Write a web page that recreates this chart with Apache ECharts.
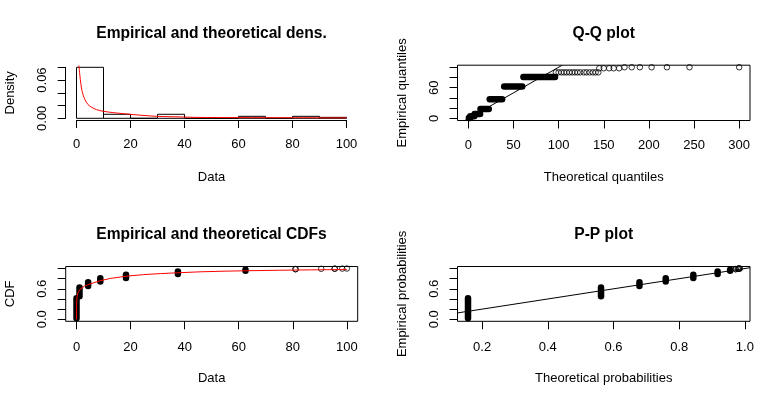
<!DOCTYPE html>
<html>
<head>
<meta charset="utf-8">
<script src="https://cdn.jsdelivr.net/npm/echarts@6.0.0/dist/echarts.min.js"></script>
<style>
html, body { margin: 0; padding: 0; background: #fff; }
#chart { width: 784px; height: 403px; }
</style>
</head>
<body>
<div id="chart"></div>
<script>
// histogram on density scale
var binStart = [0, 10, 20, 30, 40, 50, 60, 70, 80, 90];
var binEnd = [10, 20, 30, 40, 50, 60, 70, 80, 90, 100];
var binDensity = [0.080, 0.0063, 0, 0.0063, 0, 0, 0.0031, 0, 0.0031, 0.0015];

// fitted density (red curve)
var densX = [0.87, 1.24, 1.6, 2.0, 2.5, 3.1, 4.3, 5.6, 7.4, 9.9, 13.6, 17.3, 21, 29.7, 38, 45, 60, 80, 100];
var densY = [0.083, 0.0675, 0.0544, 0.0439, 0.0361, 0.0293, 0.0214, 0.0173, 0.0136, 0.011, 0.0089, 0.0073, 0.0058, 0.0031, 0.0022, 0.0014, 0.0011, 0.0009, 0.0007];

// observed values (dense groups) and their empirical probabilities
var obsValue = [0, 1.1, 4.3, 8.8, 18.3, 37.5, 62.5];
var ecdfLow = [0.02, 0.455, 0.655, 0.745, 0.815, 0.89, 0.955];
var ecdfHigh = [0.415, 0.625, 0.73, 0.81, 0.875, 0.94, 0.975];
// sparse upper tail
var tailValue = [81, 81, 90.5, 95.5, 95.5, 98.3, 100];
var tailEcdf = [0.985, 0.99, 0.995, 0.996, 0.998, 0.999, 1.0];

// fitted CDF (red curve)
var cdfX = [0, 0.05, 0.15, 0.4, 0.8, 1.3, 2.0, 3.0, 4.0, 5.2, 6.4, 8.8, 12.5, 18.6, 24.8, 31, 37, 45.7, 55, 62.5, 75, 87, 100];
var cdfY = [0, 0.3, 0.42, 0.5, 0.55, 0.59, 0.62, 0.655, 0.675, 0.7, 0.72, 0.76, 0.805, 0.85, 0.88, 0.9, 0.915, 0.935, 0.948, 0.956, 0.966, 0.974, 0.98];

// Q-Q: empirical value, range of theoretical quantiles
var qqEmp = [0, 1.1, 4.3, 8.8, 18.3, 37.5, 62.5, 81];
var qqTheoLow = [0, 0.6, 2.2, 7, 13.5, 23.7, 39.7, 61];
var qqTheoHigh = [0.5, 2, 6.5, 13, 22.6, 37.4, 59.7, 96];
var qqOpenTheo = [97, 100, 103, 106, 109, 112, 115, 118, 121, 124, 128, 131, 134.5, 138, 141, 144,
                  145, 150, 156, 161, 167, 173, 181, 190, 203, 220, 245, 300];
var qqOpenEmp = [90, 90, 90, 90, 90, 90, 90, 90, 90, 90, 90, 90, 90, 90, 90, 90,
                 98, 98, 98, 98, 98, 100, 100, 100, 100, 100, 100, 100];

// P-P: theoretical probability of each dense group, and of the tail points
var ppTheo = [0.157, 0.562, 0.679, 0.759, 0.843, 0.917, 0.955];
var ppTailTheo = [0.972, 0.972, 0.978, 0.981, 0.981, 0.983, 0.985];

// axis ticks / labels
var densTicksY = [0, 0.02, 0.04, 0.06, 0.08];
var densLabelsY = [0, 0.06];
var qqTicksX = [0, 50, 100, 150, 200, 250, 300];
var qqTicksY = [0, 20, 40, 60, 80, 100];
var qqLabelsY = [0, 60];
var cdfTicksX = [0, 20, 40, 60, 80, 100];
var probTicks = [0, 0.2, 0.4, 0.6, 0.8, 1.0];
var probLabels = [0, 0.6];
var ppTicksX = [0.2, 0.4, 0.6, 0.8, 1.0];

var FONT = '"Liberation Sans", Arial, sans-serif';
var FS = 13;
var chart = echarts.init(document.getElementById('chart'), null, {renderer: 'canvas'});

function fmt(d) {
    return function (v) { return Number(v).toFixed(d); };
}

function axis(grid, min, max, ticks, labels, f, isY, name, margin, gap, extra) {
    var a = {
        type: 'value', gridIndex: grid, min: min, max: max,
        splitLine: {show: false},
        axisLine: {show: false, onZero: false, lineStyle: {color: '#000', width: 1}},
        axisTick: {show: true, inside: false, length: 8, customValues: ticks, lineStyle: {color: '#000', width: 1}},
        axisLabel: {customValues: labels, formatter: f, rotate: isY ? 90 : 0, margin: margin,
                    color: '#000', fontSize: FS, fontFamily: FONT},
        name: name, nameLocation: 'middle', nameGap: gap,
        nameTextStyle: {color: '#000', fontSize: FS, fontFamily: FONT}
    };
    for (var k in extra) a[k] = extra[k];
    return a;
}

var series = [];

// histogram bars
var histData = binStart.map(function (s, i) { return [s, binEnd[i], binDensity[i]]; });
series.push({
    type: 'custom', xAxisIndex: 0, yAxisIndex: 0, data: histData,
    encode: {x: [0, 1], y: 2},
    renderItem: function (params, api) {
        var a = api.coord([api.value(0), api.value(2)]);
        var b = api.coord([api.value(1), 0]);
        return {type: 'rect', shape: {x: a[0], y: a[1], width: b[0] - a[0], height: b[1] - a[1]},
                style: {fill: 'none', stroke: '#000', lineWidth: 1}};
    }
});
series.push({
    type: 'line', xAxisIndex: 0, yAxisIndex: 0, clip: false, smooth: 0.3, symbol: 'none',
    data: densX.map(function (x, i) { return [x, densY[i]]; }),
    lineStyle: {color: '#ff0000', width: 1}
});

// dense groups drawn as thick capsules (overlapping circles)
function blob(xi, yi, p0, p1) {
    series.push({
        type: 'line', xAxisIndex: xi, yAxisIndex: yi, symbol: 'none', silent: true,
        data: [p0, p1], lineStyle: {color: '#000', width: 6.5, cap: 'round'}
    });
}
function openPts(xi, yi, pts) {
    series.push({
        type: 'scatter', xAxisIndex: xi, yAxisIndex: yi, symbol: 'circle', symbolSize: 5.5,
        data: pts, itemStyle: {color: 'rgba(0,0,0,0)', borderColor: '#000', borderWidth: 1}
    });
}

// Q-Q
qqEmp.forEach(function (v, i) { blob(1, 1, [qqTheoLow[i], v], [qqTheoHigh[i], v]); });
openPts(1, 1, qqOpenTheo.map(function (t, i) { return [t, qqOpenEmp[i]]; }));
series.push({type: 'line', xAxisIndex: 1, yAxisIndex: 1, symbol: 'none',
    data: [[-4, -4], [104, 104]], lineStyle: {color: '#000', width: 1}});

// CDF
obsValue.forEach(function (v, i) { blob(2, 2, [v, ecdfLow[i]], [v, ecdfHigh[i]]); });
openPts(2, 2, tailValue.map(function (v, i) { return [v, tailEcdf[i]]; }));
series.push({type: 'line', xAxisIndex: 2, yAxisIndex: 2, symbol: 'none', z: 5,
    data: cdfX.map(function (x, i) { return [x, cdfY[i]]; }), lineStyle: {color: '#ff0000', width: 1}});

// P-P
ppTheo.forEach(function (t, i) { blob(3, 3, [t, ecdfLow[i]], [t, ecdfHigh[i]]); });
openPts(3, 3, ppTailTheo.map(function (t, i) { return [t, tailEcdf[i]]; }));
series.push({type: 'line', xAxisIndex: 3, yAxisIndex: 3, symbol: 'none',
    data: [[0.125, 0.125], [1.0156, 1.0156]], lineStyle: {color: '#000', width: 1}});

function title(text, x, y) {
    return {text: text, left: x, top: y, textAlign: 'center', textVerticalAlign: 'middle', padding: 0,
            textStyle: {color: '#000', fontSize: 15.6, fontWeight: 'bold', fontFamily: FONT}};
}

var boxStyle = {show: true, borderColor: '#000', borderWidth: 1, backgroundColor: 'transparent'};

chart.setOption({
    animation: false,
    backgroundColor: '#fff',
    title: [
        title('Empirical and theoretical dens.', 211.5, 34),
        title('Q-Q plot', 603.7, 34),
        title('Empirical and theoretical CDFs', 211.5, 235),
        title('P-P plot', 603.7, 235)
    ],
    grid: [
        {left: 76.5, width: 270, top: 67.3, height: 51},
        Object.assign({left: 457.5, width: 292.5, top: 65.2, height: 55.3}, boxStyle),
        Object.assign({left: 65.7, width: 292, top: 266.5, height: 54.8}, boxStyle),
        Object.assign({left: 457.5, width: 292.5, top: 266.5, height: 54.8}, boxStyle)
    ],
    xAxis: [
        axis(0, 0, 100, null, null, null, false, 'Data', 18, 51,
             {interval: 20, offset: 1.7, axisLine: {show: true, onZero: false, lineStyle: {color: '#000', width: 1}},
              axisTick: {show: true, length: 8, lineStyle: {color: '#000', width: 1}},
              axisLabel: {margin: 18, color: '#000', fontSize: FS, fontFamily: FONT}}),
        axis(1, -12, 312, qqTicksX, qqTicksX, null, false, 'Theoretical quantiles', 18, 50),
        axis(2, -4, 104, cdfTicksX, cdfTicksX, null, false, 'Data', 19.5, 51),
        axis(3, 0.125, 1.0156, ppTicksX, ppTicksX, fmt(1), false, 'Theoretical probabilities', 19.5, 51)
    ],
    yAxis: [
        axis(0, 0, 0.08, densTicksY, densLabelsY, fmt(2), true, 'Density', 17, 49,
             {offset: 10.8, axisLine: {show: true, onZero: false, lineStyle: {color: '#000', width: 1}}}),
        axis(1, -4, 104, qqTicksY, qqLabelsY, null, true, 'Empirical quantiles', 17, 49),
        axis(2, -0.04, 1.04, probTicks, probLabels, fmt(1), true, 'CDF', 17, 49),
        axis(3, -0.04, 1.04, probTicks, probLabels, fmt(1), true, 'Empirical probabilities', 17, 49)
    ],
    series: series
});
</script>
</body>
</html>
